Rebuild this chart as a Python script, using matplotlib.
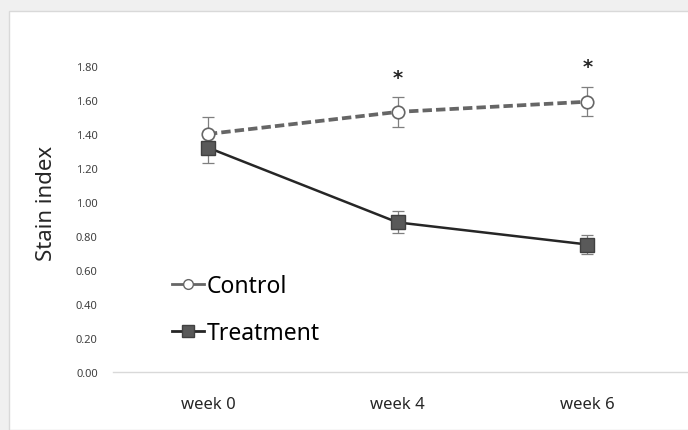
import matplotlib.pyplot as plt
from matplotlib.patches import Rectangle
from matplotlib.lines import Line2D

plt.rcParams['font.family'] = ['Liberation Sans Narrow', 'Noto Sans', 'DejaVu Sans']

weeks = ['week 0', 'week 4', 'week 6']
control = [1.40, 1.53, 1.59]
control_err = [0.10, 0.09, 0.085]
treatment = [1.32, 0.88, 0.75]
treatment_err = [0.09, 0.065, 0.055]
stars_y = [None, 1.73, 1.80]
yticks = [0.0, 0.2, 0.4, 0.6, 0.8, 1.0, 1.2, 1.4, 1.6, 1.8]

fig = plt.figure(figsize=(6.88, 4.31), dpi=100)
fig.patch.set_facecolor('#f0f0f0')
panel = Rectangle((9/688, 0), 1, 1 - 12/431, transform=fig.transFigure,
                  facecolor='white', edgecolor='#d9d9d9', lw=1, zorder=-1)
fig.add_artist(panel)

ax = fig.add_axes([113/688, 58/431, 1 - 113/688, 340/431])
ax.set_zorder(1)
ax.set_facecolor('none')
x = range(len(weeks))

ax.errorbar(x, control, yerr=control_err, fmt='none', ecolor='#7f7f7f', elinewidth=0.9,
            capsize=4, capthick=0.9, zorder=2)
ax.errorbar(x, treatment, yerr=treatment_err, fmt='none', ecolor='#7f7f7f', elinewidth=0.9,
            capsize=4, capthick=0.9, zorder=2)
ax.plot(x, control, color='#666666', lw=2.7, ls=(0, (2.5, 1.1)), marker='o', ms=9,
        mfc='white', mec='#666666', mew=1.2, zorder=3)
ax.plot(x, treatment, color='#262626', lw=1.8, marker='s', ms=10,
        mfc='#595959', mec='#404040', mew=1, zorder=4)

for i, s in enumerate(stars_y):
    if s is not None:
        ax.text(i, s, '*', ha='center', va='center', fontsize=14, fontweight='bold',
                color='#262626', family='DejaVu Sans', clip_on=False)

ax.set_xlim(-0.5, 2.53)
ax.set_ylim(0, 2.0)
ax.set_xticks(list(x))
ax.set_xticklabels(weeks, fontsize=12, color='#262626')
ax.set_yticks(yticks)
ax.set_yticklabels(['%.2f' % v for v in yticks], fontsize=8, color='#404040')
ax.tick_params(length=0)
ax.tick_params(axis='x', pad=17)
ax.tick_params(axis='y', pad=11)
for sp in ['top', 'right', 'left']:
    ax.spines[sp].set_visible(False)
ax.spines['bottom'].set_color('#d9d9d9')
ax.spines['bottom'].set_linewidth(1)
ax.set_ylabel('Stain index', fontsize=16, color='#262626', labelpad=14)

handles = [
    Line2D([], [], color='#666666', lw=2, marker='o', ms=7, mfc='white', mec='#666666'),
    Line2D([], [], color='#262626', lw=2, marker='s', ms=8, mfc='#595959', mec='#404040'),
]
ax.legend(handles, ['Control', 'Treatment'], loc='upper left',
          bbox_to_anchor=(172/688, 1 - 275/431), bbox_transform=fig.transFigure,
          frameon=False, fontsize=16.5, handlelength=1.4, handletextpad=0.1,
          labelspacing=1.0, borderpad=0, borderaxespad=0)

fig.savefig('out.png', dpi=100, facecolor=fig.get_facecolor())
